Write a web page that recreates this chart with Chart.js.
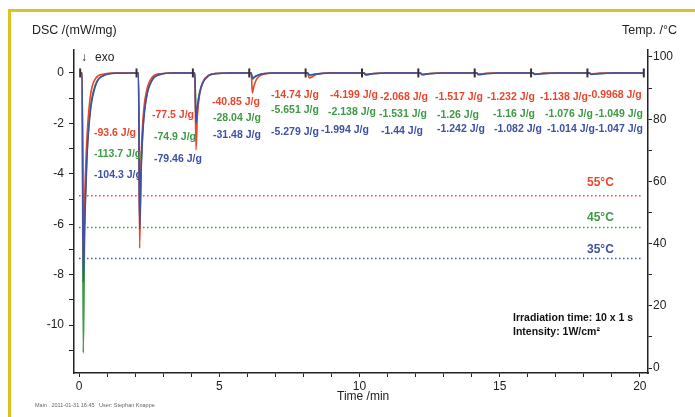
<!DOCTYPE html>
<html>
<head>
<meta charset="utf-8">
<script src="https://cdn.jsdelivr.net/npm/chart.js@4.4.1/dist/chart.umd.min.js"></script>
<style>
  html, body { margin: 0; padding: 0; background: #fff; }
  #wrap { position: relative; width: 695px; height: 417px; overflow: hidden; }
  #frame { position: absolute; left: 8px; top: 9px; width: 700px; height: 420px; border-top: 3px solid #d8c424; border-left: 3px solid #d8c424; }
  canvas { position: absolute; left: 0; top: 0; }
</style>
</head>
<body>
<div id="wrap">
  <div id="frame"></div>
  <canvas id="c" width="695" height="417"></canvas>
</div>
<script>
// time axis (min) shared by the three DSC curves
const time = [
  0.04, 0.11, 0.15, 0.20, 0.28, 0.40, 0.59, 0.89, 1.34,
  2.05, 2.12, 2.16, 2.21, 2.29, 2.41, 2.60, 2.90, 3.35,
  4.06, 4.13, 4.17, 4.22, 4.30, 4.42, 4.61, 4.91, 5.36,
  6.07, 6.14, 6.18, 6.23, 6.31, 6.43, 6.62, 6.92, 7.37,
  8.08, 8.15, 8.21, 8.48, 8.98,
  10.09, 10.16, 10.22, 10.49, 10.99,
  12.10, 12.17, 12.23, 12.50, 13.00,
  14.11, 14.18, 14.24, 14.51, 15.01,
  16.12, 16.19, 16.25, 16.52, 17.02,
  18.13, 18.20, 18.26, 18.53, 19.03,
  20.14
];
// DSC signal, mW/mg
const dsc55 = [
  0, 0, -7.5, -5.0, -2.6, -0.95, -0.22, -0.04, 0,
  0, 0, -6.95, -3.6, -1.7, -0.7, -0.18, -0.03, 0,
  0, 0, -3.05, -1.7, -0.85, -0.35, -0.1, -0.02, 0,
  0, 0, -0.8, -0.55, -0.3, -0.13, -0.04, -0.01, 0,
  0, 0, -0.2, -0.05, 0,
  0, 0, -0.08, -0.02, 0,
  0, 0, -0.06, -0.02, 0,
  0, 0, -0.05, -0.01, 0,
  0, 0, -0.05, -0.01, 0,
  0, 0, -0.04, -0.01, 0,
  0
];
const dsc45 = [
  0, 0, -11.1, -6.2, -3.3, -1.45, -0.45, -0.09, 0,
  0, 0, -6.0, -3.8, -2.0, -0.9, -0.28, -0.05, 0,
  0, 0, -1.9, -1.3, -0.75, -0.35, -0.11, -0.02, 0,
  0, 0, -0.25, -0.2, -0.13, -0.07, -0.02, 0, 0,
  0, 0, -0.07, -0.03, 0,
  0, 0, -0.05, -0.02, 0,
  0, 0, -0.05, -0.02, 0,
  0, 0, -0.05, -0.02, 0,
  0, 0, -0.04, -0.02, 0,
  0, 0, -0.04, -0.02, 0,
  0
];
const dsc35 = [
  0, 0, -8.3, -6.0, -3.4, -1.55, -0.5, -0.1, -0.01,
  0, 0, -6.2, -4.0, -2.1, -0.95, -0.3, -0.06, 0,
  0, 0, -2.0, -1.4, -0.8, -0.38, -0.12, -0.02, 0,
  0, 0, -0.2, -0.18, -0.12, -0.06, -0.02, 0, 0,
  0, 0, -0.08, -0.04, 0,
  0, 0, -0.07, -0.03, 0,
  0, 0, -0.07, -0.03, 0,
  0, 0, -0.07, -0.03, 0,
  0, 0, -0.06, -0.03, 0,
  0, 0, -0.06, -0.03, 0,
  0
];
const markerTime = [0.04, 2.05, 4.06, 6.07, 8.08, 10.09, 12.1, 14.11, 16.12, 18.13, 20.14];

// isothermal temperatures (right axis)
const tempTime = [0, 20.1];
const tempLevels = [55.4, 45.2, 35.2];
const tempNames = ['55°C', '45°C', '35°C'];

// integrated heats, J/g, one per irradiation
const heat55 = [-93.6, -77.5, -40.85, -14.74, -4.199, -2.068, -1.517, -1.232, -1.138, -0.9968];
const heat45 = [-113.7, -74.9, -28.04, -5.651, -2.138, -1.531, -1.26, -1.16, -1.076, -1.049];
const heat35 = [-104.3, -79.46, -31.48, -5.279, -1.994, -1.44, -1.242, -1.082, -1.014, -1.047];

const xTicks = [0, 1, 2, 3, 4, 5, 6, 7, 8, 9, 10, 11, 12, 13, 14, 15, 16, 17, 18, 19, 20];
const dscTicks = [0, -1, -2, -3, -4, -5, -6, -7, -8, -9, -10, -11];
const tempTicks = [0, 10, 20, 30, 40, 50, 60, 70, 80, 90, 100];

const RED = '#e8472d', GREEN = '#3f9a46', BLUE = '#3d51a6', INK = '#222';
const FONT = "'Liberation Sans', Arial, sans-serif";

// label placement (px), per series, per irradiation
const pos55 = [[94,133],[152,115],[212,102],[271,95],[330,95],[380,97],[435,97],[487,97],[540,97],[588,95]];
const pos45 = [[94,154],[154,137],[213,118],[271,110],[328,112],[379,114],[437,115],[493,114],[545,114],[595,114]];
const pos35 = [[94,175],[154,159],[213,135],[271,132],[321,130],[381,131],[437,129],[494,129],[547,129],[595,129]];
const tempLabelY = [183, 218, 250];

const pts = (xs, ys) => xs.map((x, i) => ({ x, y: ys[i] }));

const textPlugin = {
  id: 'texts',
  afterDraw(chart) {
    const ctx = chart.ctx;
    ctx.save();
    ctx.textBaseline = 'middle';
    ctx.fillStyle = INK;
    ctx.font = '12.5px ' + FONT;
    ctx.textAlign = 'left';
    ctx.fillText('DSC /(mW/mg)', 32, 31);
    ctx.textAlign = 'right';
    ctx.fillText('Temp. /°C', 677, 31);
    ctx.textAlign = 'left';
    ctx.font = '12px ' + FONT;
    ctx.fillText('↓', 81, 58);
    ctx.fillText('exo', 95, 58);
    ctx.fillText('Time /min', 337, 397);

    ctx.font = 'bold 10.5px ' + FONT;
    [[heat55, pos55, RED], [heat45, pos45, GREEN], [heat35, pos35, BLUE]].forEach(([vals, pos, col]) => {
      ctx.fillStyle = col;
      vals.forEach((v, i) => ctx.fillText(v + ' J/g', pos[i][0], pos[i][1]));
    });

    ctx.font = 'bold 12px ' + FONT;
    [RED, GREEN, BLUE].forEach((col, i) => {
      ctx.fillStyle = col;
      ctx.fillText(tempNames[i], 587, tempLabelY[i]);
    });

    ctx.fillStyle = '#111';
    ctx.font = 'bold 10.5px ' + FONT;
    ctx.fillText('Irradiation time: 10 x 1 s', 513, 318);
    ctx.fillText('Intensity: 1W/cm²', 513, 332);

    ctx.fillStyle = '#666';
    ctx.font = '5.5px ' + FONT;
    ctx.fillText('Main   2011-01-31 16:45   User: Stephan Knappe', 35, 405);
    ctx.restore();
  }
};

const tickOpts = (len) => ({ drawOnChartArea: false, drawTicks: true, tickLength: len, color: INK, lineWidth: 1 });

new Chart(document.getElementById('c'), {
  type: 'line',
  data: {
    datasets: [
      { data: markerTime.map(t => ({ x: t, y: 0 })), yAxisID: 'y', showLine: false, pointStyle: 'line', rotation: 90, pointRadius: 4.5, pointBorderWidth: 2, pointBorderColor: '#333', borderColor: '#333' },
      { data: pts(time, dsc35), yAxisID: 'y', borderColor: BLUE, borderWidth: 1.6, pointRadius: 0, cubicInterpolationMode: 'monotone' },
      { data: pts(time, dsc55), yAxisID: 'y', borderColor: RED, borderWidth: 1.6, pointRadius: 0, cubicInterpolationMode: 'monotone' },
      { data: pts(time, dsc45), yAxisID: 'y', borderColor: GREEN, borderWidth: 1.6, pointRadius: 0, cubicInterpolationMode: 'monotone' },
      { data: pts(tempTime, [tempLevels[0], tempLevels[0]]), yAxisID: 't', borderColor: RED, borderWidth: 1.6, borderDash: [1.5, 2.5], pointRadius: 0 },
      { data: pts(tempTime, [tempLevels[1], tempLevels[1]]), yAxisID: 't', borderColor: GREEN, borderWidth: 1.6, borderDash: [1.5, 2.5], pointRadius: 0 },
      { data: pts(tempTime, [tempLevels[2], tempLevels[2]]), yAxisID: 't', borderColor: BLUE, borderWidth: 1.6, borderDash: [1.5, 2.5], pointRadius: 0 },
    ]
  },
  options: {
    responsive: false,
    animation: false,
    layout: { padding: { top: 50, left: 0, right: 0, bottom: 0 } },
    plugins: { legend: { display: false }, tooltip: { enabled: false } },
    scales: {
      x: {
        type: 'linear', min: -0.18, max: 20.29,
        afterBuildTicks: s => { s.ticks = xTicks.map(v => ({ value: v })); },
        afterFit: s => { s.height = 44; },
        ticks: { color: INK, font: { size: 12, family: FONT }, padding: 2, maxRotation: 0, autoSkip: false,
          callback: v => (v % 5 === 0 ? String(v) : '') },
        grid: tickOpts(4),
        border: { display: true, color: INK, width: 1.5 }
      },
      y: {
        type: 'linear', position: 'left', min: -11.9, max: 0.91,
        afterBuildTicks: s => { s.ticks = dscTicks.map(v => ({ value: v })); },
        afterFit: s => { s.width = 74; },
        ticks: { color: INK, font: { size: 12, family: FONT }, padding: 5, autoSkip: false,
          callback: v => (v % 2 === 0 ? String(v) : '') },
        grid: tickOpts(5),
        border: { display: true, color: INK, width: 1.5 }
      },
      t: {
        type: 'linear', position: 'right', min: -1.6, max: 102.25,
        afterBuildTicks: s => { s.ticks = tempTicks.map(v => ({ value: v })); },
        afterFit: s => { s.width = 47; },
        ticks: { color: INK, font: { size: 12, family: FONT }, padding: 1, autoSkip: false,
          callback: v => (v % 20 === 0 ? String(v) : '') },
        grid: tickOpts(4),
        border: { display: true, color: INK, width: 1.5 }
      }
    }
  },
  plugins: [textPlugin]
});
</script>
</body>
</html>
